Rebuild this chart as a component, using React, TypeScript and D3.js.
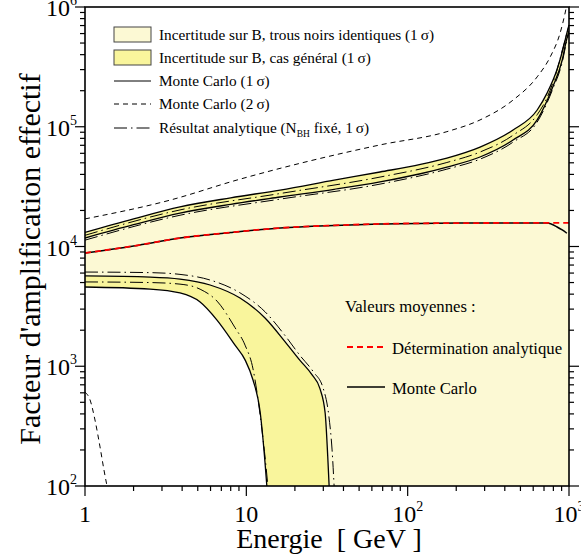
import React from "react";
import * as d3 from "d3";

// ---------------- DATA ----------------
// Upper edge of the general-case band (Monte Carlo 1 sigma, upper)
const u1E = [1, 2, 3.88, 8, 16.2, 35, 67.4, 120, 175, 281, 450, 635, 731, 844, 922, 965, 1000];
const u1V = [13100, 17000, 21400, 25500, 29600, 35800, 41900, 48500, 54800, 67700, 94000, 138000, 191000, 302000, 457000, 589000, 708000];
// Lower edge of the upper general band / top of identical-BH band
const u2E = [1, 2, 3.88, 8, 16.2, 35, 67.4, 120, 175, 281, 450, 635, 793, 908, 965, 1000];
const u2V = [11770, 15200, 19000, 22500, 25900, 30000, 34600, 40500, 46100, 55900, 77500, 114000, 215000, 361000, 530000, 631000];
// Analytic (N_BH fixed) 1 sigma curves near the upper band
const duaE = [1, 3.88, 16.2, 67.4, 175, 281, 450, 635, 731, 844, 922, 1000];
const duaV = [12400, 20200, 27700, 38000, 50300, 61500, 85000, 126000, 175000, 300000, 470000, 700000];
const dubE = [1, 3.88, 16.2, 67.4, 175, 281, 450, 635, 793, 908, 965, 1000];
const dubV = [11300, 18240, 24870, 33200, 44260, 53660, 74400, 109400, 206400, 346600, 508800, 605800];
// Lower band: upper edge (identical-BH lower limit) and lower edge (general case)
const l1E = [1, 2.53, 3.88, 5.96, 9.14, 13.06, 17.4, 21.5, 25.5, 28.6, 30.8, 32.1, 32.6];
const l1V = [5680, 5560, 5350, 4770, 3710, 2530, 1600, 1120, 850, 650, 407, 156, 100];
const l2E = [1, 2.53, 3.88, 5.17, 6.58, 8.51, 9.82, 11.0, 12.2, 13.06, 13.4];
const l2V = [4590, 4410, 4090, 3440, 2430, 1500, 1130, 767, 407, 156, 100];
const dlaE = [1, 2.53, 3.88, 5.96, 9.14, 13.06, 17.4, 21.5, 26, 30, 32.5, 34, 35];
const dlaV = [6120, 6050, 5850, 5250, 4100, 2850, 1800, 1230, 900, 650, 380, 200, 100];
const dlbE = [1, 2.53, 3.88, 5.17, 6.58, 8.51, 9.82, 11.0, 11.66, 12.5, 13.06, 13.6];
const dlbV = [5060, 5000, 4850, 4400, 3500, 2100, 1500, 950, 598, 294, 175, 100];
// Monte Carlo 2 sigma
const mc2uE = [1, 3.37, 8.75, 67.4, 175, 281, 450, 635, 764, 881, 946, 1000];
const mc2uV = [17000, 24400, 35900, 70500, 91000, 114000, 167000, 261000, 382000, 607000, 891000, 1300000];
const mc2lE = [1, 1.075, 1.153, 1.239, 1.311, 1.369];
const mc2lV = [609, 523, 356, 212, 136, 100];
// Mean values
const meanMcE = [1, 2, 3.88, 8, 16.2, 35, 67.4, 150, 281, 500, 731, 844, 908, 970];
const meanMcV = [8830, 10100, 11770, 13100, 14280, 15000, 15430, 15650, 15700, 15750, 15700, 14560, 13740, 12900];
const meanAnE = [1, 2, 3.88, 8, 16.2, 35, 67.4, 150, 281, 500, 731, 844, 1000];
const meanAnV = [8830, 10100, 11770, 13100, 14280, 15000, 15430, 15650, 15700, 15750, 15750, 15780, 15780];

const yTicks = [100, 1000, 10000, 100000, 1000000];
const yTickExp = ["2", "3", "4", "5", "6"];
const xTicks = [1, 10, 100, 1000];
const xTickBase = ["1", "10", "10", "10"];
const xTickExp = ["", "", "2", "3"];

const legendItems = [
  "Incertitude sur B, trous noirs identiques (1\u2009\u03c3)",
  "Incertitude sur B, cas g\u00e9n\u00e9ral (1\u2009\u03c3)",
  "Monte Carlo (1\u2009\u03c3)",
  "Monte Carlo (2\u2009\u03c3)",
];

// ---------------- STYLE ----------------
const LIGHT = "#fcf9d4";
const DARK = "#f9f59c";
const FONT = "Liberation Serif";

const L = 85, R = 569, T = 7, B = 486;

export default function App() {
  const x = d3.scaleLog().domain([1, 1000]).range([L, R]);
  const y = d3.scaleLog().domain([100, 1e6]).range([B, T]);
  const pts = (E: number[], V: number[]) => E.map((e, i) => [e, V[i]] as [number, number]);
  const line = d3
    .line<[number, number]>()
    .x((d) => x(d[0]))
    .y((d) => y(d[1]))
    .curve(d3.curveMonotoneX);
  const area = d3
    .area<[number, number]>()
    .x((d) => x(d[0]))
    .y0(B)
    .y1((d) => y(d[1]))
    .curve(d3.curveMonotoneX);

  const minorY: number[] = [];
  for (let d = 100; d < 1e6; d *= 10) for (let k = 2; k <= 9; k++) minorY.push(d * k);
  const minorX: number[] = [];
  for (let d = 1; d < 1000; d *= 10) for (let k = 2; k <= 9; k++) minorX.push(d * k);

  const dashDot = "13,4,1.5,4";
  const ts = { fontFamily: FONT };

  return (
    <svg width={581} height={557} style={{ position: "absolute", left: 0, top: 0, fontFamily: FONT }}>
      <defs>
        <clipPath id="plot">
          <rect x={L} y={T} width={R - L} height={B - T} />
        </clipPath>
      </defs>
      <rect x={0} y={0} width={581} height={557} fill="#fff" />
      <g clipPath="url(#plot)">
        <path d={area(pts(u1E, u1V)) || ""} fill={DARK} />
        <path d={area(pts(u2E, u2V)) || ""} fill={LIGHT} />
        <path d={area(pts(l1E, l1V)) || ""} fill={DARK} />
        <path d={area(pts(l2E, l2V)) || ""} fill="#fff" />

        <g fill="none" stroke="#000">
          <path d={line(pts(u1E, u1V)) || ""} strokeWidth={1.3} />
          <path d={line(pts(u2E, u2V)) || ""} strokeWidth={1.3} />
          <path d={line(pts(l1E, l1V)) || ""} strokeWidth={1.3} />
          <path d={line(pts(l2E, l2V)) || ""} strokeWidth={1.3} />
          <path d={line(pts(duaE, duaV)) || ""} strokeWidth={1} strokeDasharray={dashDot} />
          <path d={line(pts(dubE, dubV)) || ""} strokeWidth={1} strokeDasharray={dashDot} />
          <path d={line(pts(dlaE, dlaV)) || ""} strokeWidth={1} strokeDasharray={dashDot} />
          <path d={line(pts(dlbE, dlbV)) || ""} strokeWidth={1} strokeDasharray={dashDot} />
          <path d={line(pts(mc2uE, mc2uV)) || ""} strokeWidth={1} strokeDasharray="5,4" />
          <path d={line(pts(mc2lE, mc2lV)) || ""} strokeWidth={1} strokeDasharray="5,4" />
          <path d={line(pts(meanMcE, meanMcV)) || ""} strokeWidth={1.5} />
        </g>
        <path d={line(pts(meanAnE, meanAnV)) || ""} fill="none" stroke="#ff0000" strokeWidth={1.8} strokeDasharray="6,4" />
      </g>

      {/* frame */}
      <rect x={L} y={T} width={R - L} height={B - T} fill="none" stroke="#000" strokeWidth={1.6} />

      {/* ticks */}
      <g stroke="#000" strokeWidth={1.2}>
        {yTicks.map((v) => (
          <g key={"ym" + v}>
            <line x1={L - 10} x2={L} y1={y(v)} y2={y(v)} />
            <line x1={R} x2={R + 10} y1={y(v)} y2={y(v)} />
          </g>
        ))}
        {minorY.map((v) => (
          <g key={"yn" + v}>
            <line x1={L - 5} x2={L} y1={y(v)} y2={y(v)} />
            <line x1={R} x2={R + 5} y1={y(v)} y2={y(v)} />
          </g>
        ))}
        {xTicks.map((v) => (
          <line key={"xm" + v} x1={x(v)} x2={x(v)} y1={B} y2={B + 10} />
        ))}
        {minorX.map((v) => (
          <line key={"xn" + v} x1={x(v)} x2={x(v)} y1={B} y2={B + 5} />
        ))}
      </g>

      {/* y tick labels */}
      {yTicks.map((v, i) => (
        <text key={"yl" + v} x={77} y={y(v) + 9} textAnchor="end" fontSize={24} fill="#000" style={ts}>
          10
          <tspan fontSize={14} dy={-11}>
            {yTickExp[i]}
          </tspan>
        </text>
      ))}
      {/* x tick labels */}
      {xTicks.map((v, i) => (
        <text key={"xl" + v} x={x(v)} y={522} textAnchor="middle" fontSize={24} fill="#000" style={ts}>
          {xTickBase[i]}
          {xTickExp[i] && (
            <tspan fontSize={14} dy={-11}>
              {xTickExp[i]}
            </tspan>
          )}
        </text>
      ))}

      {/* axis titles */}
      <text x={329} y={548} textAnchor="middle" fontSize={28} fill="#000" style={ts}>
        Energie{"\u2002"}[ GeV ]
      </text>
      <text transform="translate(40,259) rotate(-90)" textAnchor="middle" fontSize={30} fill="#000" style={ts}>
        Facteur d'amplification effectif
      </text>

      {/* legend */}
      <g fontSize={15.3} fill="#000" style={ts}>
        <rect x={114} y={27} width={37} height={15} fill={LIGHT} stroke="#444" strokeWidth={1} />
        <rect x={114} y={50} width={37} height={15} fill={DARK} stroke="#444" strokeWidth={1} />
        <line x1={114} x2={151} y1={81} y2={81} stroke="#000" strokeWidth={1} />
        <line x1={114} x2={151} y1={104} y2={104} stroke="#000" strokeWidth={1} strokeDasharray="5,4" />
        <line x1={114} x2={151} y1={128} y2={128} stroke="#000" strokeWidth={1} strokeDasharray={dashDot} />
        {legendItems.map((t, i) => (
          <text key={t} x={159} y={40 + i * 23}>
            {t}
          </text>
        ))}
        <text x={159} y={133}>
          R{"\u00e9"}sultat analytique (N
          <tspan fontSize={9.5} dy={4}>
            BH
          </tspan>
          <tspan dy={-4}> fix{"\u00e9"}, 1{"\u2009"}{"\u03c3"})</tspan>
        </text>
      </g>

      {/* inner legend */}
      <g fontSize={16.7} fill="#000" style={ts}>
        <text x={345} y={312}>Valeurs moyennes :</text>
        <line x1={347} x2={385} y1={347} y2={347} stroke="#ff0000" strokeWidth={1.8} strokeDasharray="6,4" />
        <text x={392} y={354}>D{"\u00e9"}termination analytique</text>
        <line x1={347} x2={385} y1={387} y2={387} stroke="#000" strokeWidth={1.5} />
        <text x={392} y={394}>Monte Carlo</text>
      </g>
    </svg>
  );
}
